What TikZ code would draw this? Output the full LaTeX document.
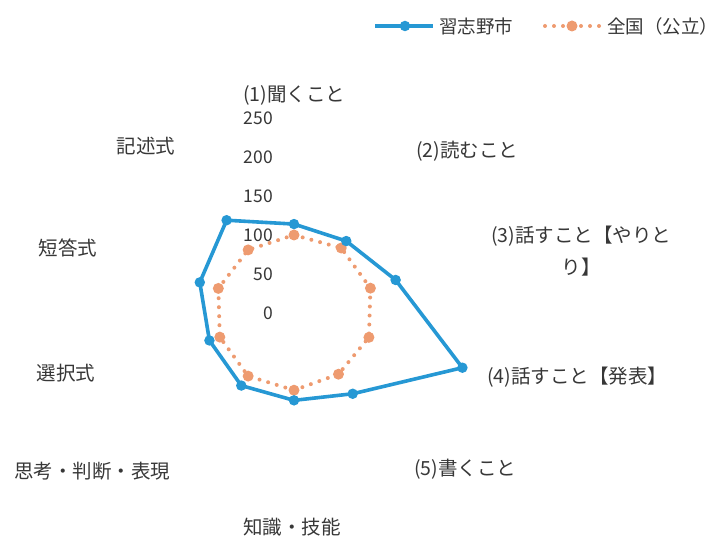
\documentclass[tikz,border=0pt]{standalone}
\usepackage{fontspec}
\newfontfamily\cjk{Noto Sans CJK JP}
\definecolor{cityblue}{RGB}{38,152,212}
\definecolor{natorange}{RGB}{238,155,112}
\definecolor{labelgray}{RGB}{55,55,55}
\tikzset{
  lbl/.style={font=\cjk\fontsize{19.5}{32}\selectfont, text=labelgray, inner sep=0pt},
  leglbl/.style={font=\cjk\fontsize{18.5}{22}\selectfont, text=labelgray, inner sep=0pt, anchor=west},
  ticklbl/.style={font=\cjk\fontsize{17.5}{20}\selectfont, text=labelgray, inner sep=0pt, anchor=east},
  cityline/.style={draw=cityblue, line width=3.6pt, line join=round},
  natline/.style={draw=natorange, line width=4pt, line cap=round, dash pattern=on 0pt off 9pt},
  citymark/.style={circle, fill=cityblue, minimum size=10.5pt, inner sep=0pt},
  natmark/.style={circle, fill=natorange, minimum size=11pt, inner sep=0pt},
}
\begin{document}
\begin{tikzpicture}[x=1pt,y=1pt]
\useasboundingbox (0,0) rectangle (717,537);
\coordinate (C) at (294,224);
% data points
\foreach \v [count=\i from 0] in {114,114,137,227,128,112,115,114,127,147}
  \coordinate (b\i) at ([shift={({90-36*\i}:{\v*0.78})}]C);
\foreach \v [count=\i from 0] in {100,103,103,101,97,99,100,100,102,100}
  \coordinate (o\i) at ([shift={({90-36*\i}:{\v*0.78})}]C);
% national series (dotted)
\draw[natline] (o0) -- (o1) -- (o2) -- (o3) -- (o4) -- (o5) -- (o6) -- (o7) -- (o8) -- (o9) -- cycle;
\foreach \i in {0,...,9} \node[natmark] (om\i) at (o\i) {};
% tick labels
\foreach \t in {0,50,100,150,200,250}
  \node[ticklbl] (t\t) at ([shift={(-21,{\t*0.78})}]C) {\t};
% city series
\draw[cityline] (b0) -- (b1) -- (b2) -- (b3) -- (b4) -- (b5) -- (b6) -- (b7) -- (b8) -- (b9) -- cycle;
\foreach \i in {0,...,9} \node[citymark] (bm\i) at (b\i) {};
% category labels
\node[lbl] (l1) at (294,442) {(1)聞くこと};
\node[lbl] (l2) at (467,386) {(2)読むこと};
\node[lbl, align=center] (l3) at (581,286) {(3)話すこと【やりと\\り】};
\node[lbl] (l4) at (577,160) {(4)話すこと【発表】};
\node[lbl] (l5) at (465,68) {(5)書くこと};
\node[lbl] (l6) at (292,10) {知識・技能};
\node[lbl] (l7) at (92,66) {思考・判断・表現};
\node[lbl] (l8) at (66,164) {選択式};
\node[lbl] (l9) at (68,289) {短答式};
\node[lbl] (l10) at (146,391) {記述式};
% legend
\coordinate (lb1) at (375,511);
\coordinate (lb2) at (433,511);
\draw[cityline] (lb1) -- (lb2);
\node[citymark] (lbm) at (405,511) {};
\node[leglbl] (lbt) at (439,511) {習志野市};
\coordinate (lo1) at (545,511);
\coordinate (lo2) at (601,511);
\draw[natline] (lo1) -- (lo2);
\node[natmark] (lom) at (572,511) {};
\node[leglbl] (lot) at (607,511) {全国（公立）};
\end{tikzpicture}
\end{document}
